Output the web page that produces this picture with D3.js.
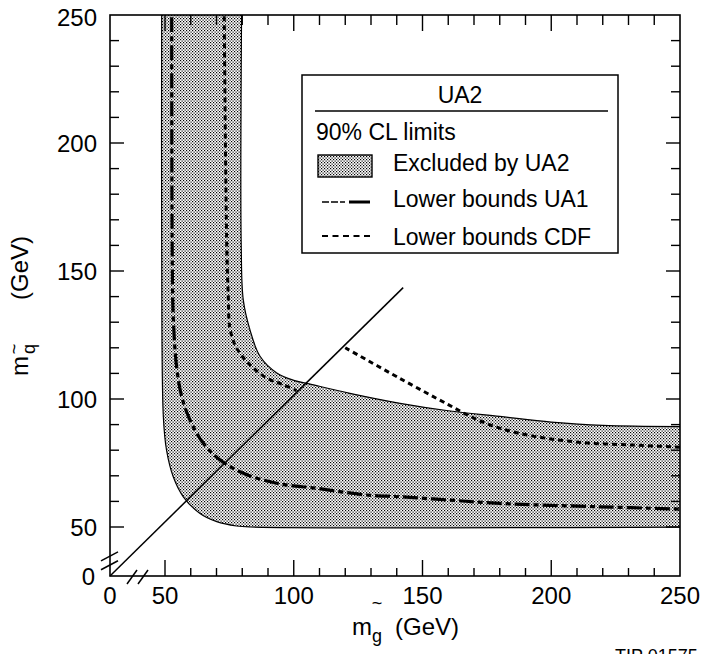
<!DOCTYPE html>
<html>
<head>
<meta charset="utf-8">
<script src="https://cdn.jsdelivr.net/npm/d3@7"></script>
<style>
  html, body { margin: 0; padding: 0; background: #fff; }
  svg { display: block; font-family: "Liberation Sans", Arial, Helvetica, sans-serif; }
</style>
</head>
<body>
<svg id="chart" width="702" height="654"></svg>
<script>
// Tick labels (GeV) on both mass axes
const xTickLabels = [0, 50, 100, 150, 200, 250];
const yTickLabels = [0, 50, 100, 150, 200, 250];

// UA2 excluded band, lower-left edge (gluino mass, squark mass)
const ua2OuterGluino = [47, 47, 48.5, 50.6, 53.2, 57.1, 63.6, 70.1, 77.8, 83, 260];
const ua2OuterSquark = [260, 158, 93, 80, 69.6, 61.8, 55.3, 52.1, 50.4, 50, 50];
// UA2 excluded band, upper-right edge
const ua2InnerGluino = [79.8, 79.6, 80.4, 83, 86.9, 93.4, 100, 106, 121.8, 141.3, 160, 180, 200, 220, 260];
const ua2InnerSquark = [260, 160, 138.7, 127, 116.7, 110.2, 107.3, 105.9, 102.2, 98.3, 95.4, 93.2, 91, 89.7, 89.2];

// UA1 lower bound
const ua1Gluino = [52.6, 52.8, 53.2, 54.5, 56.5, 59.7, 64.9, 71.4, 80.4, 93.4, 108.9, 128.3, 141.3, 160.7, 180.1, 218.9, 250];
const ua1Squark = [260, 158, 132.1, 112.6, 100.9, 91.8, 82.7, 76.2, 71, 67.1, 65.1, 62.5, 61.8, 60.5, 59.2, 57.9, 57];

// CDF lower bound: branch above the diagonal, and branch below it
const cdfUpperGluino = [72.9, 74, 74.6, 75.2, 77.8, 83, 89.5, 95.9, 101.1];
const cdfUpperSquark = [260, 159, 139.5, 127.7, 119.9, 113.4, 108.2, 105.6, 103.3];
const cdfLowerGluino = [120, 141.3, 160, 170, 180, 193, 212, 232, 250];
const cdfLowerSquark = [120, 108, 97.8, 92.5, 88.6, 85.5, 83, 82, 81.2];

// Diagonal m(squark) ~ m(gluino)
const diagGluino = [0, 142.5];
const diagSquark = [0, 143.5];

// Legend entries
const legendTitle = "UA2";
const legendSubtitle = "90% CL limits";
const legendLabels = ["Excluded by UA2", "Lower bounds UA1", "Lower bounds CDF"];

const svg = d3.select("#chart");

// Broken axes: 0–50 GeV compressed, 50–250 GeV linear
const x = d3.scaleLinear().domain([0, 50, 250]).range([110, 165, 680]);
const y = d3.scaleLinear().domain([0, 50, 250]).range([576, 527, 15]);

const defs = svg.append("defs");
const pat = defs.append("pattern")
  .attr("id", "stipple").attr("patternUnits", "userSpaceOnUse")
  .attr("width", 3).attr("height", 3);
pat.append("rect").attr("width", 3).attr("height", 3).attr("fill", "#fff");
pat.append("rect").attr("x", 0).attr("y", 0).attr("width", 1.2).attr("height", 1.2).attr("fill", "#000");
pat.append("rect").attr("x", 1.5).attr("y", 1.5).attr("width", 1.2).attr("height", 1.2).attr("fill", "#000");

defs.append("clipPath").attr("id", "plotClip")
  .append("rect")
  .attr("x", x(0)).attr("y", y(250))
  .attr("width", x(250) - x(0)).attr("height", y(0) - y(250));

const line = d3.line()
  .x(d => x(d[0])).y(d => y(d[1]))
  .curve(d3.curveCatmullRom.alpha(0.5));

const plot = svg.append("g").attr("clip-path", "url(#plotClip)");

// Excluded band
const outer = d3.zip(ua2OuterGluino, ua2OuterSquark);
const innerRev = d3.zip(ua2InnerGluino, ua2InnerSquark).reverse();
const bandPath = line(outer) + "L" + line(innerRev).slice(1) + "Z";
plot.append("path").attr("d", bandPath)
  .attr("fill", "url(#stipple)").attr("stroke", "#000").attr("stroke-width", 1.2);

// UA1 bound
plot.append("path").attr("d", line(d3.zip(ua1Gluino, ua1Squark)))
  .attr("fill", "none").attr("stroke", "#000").attr("stroke-width", 3.2)
  .attr("stroke-dasharray", "15,4,5,4");

// CDF bound
[[cdfUpperGluino, cdfUpperSquark], [cdfLowerGluino, cdfLowerSquark]].forEach(([g, q]) => {
  plot.append("path").attr("d", line(d3.zip(g, q)))
    .attr("fill", "none").attr("stroke", "#000").attr("stroke-width", 3)
    .attr("stroke-dasharray", "5,4");
});

// Diagonal
svg.append("path")
  .attr("d", d3.line().x(d => x(d[0])).y(d => y(d[1]))(d3.zip(diagGluino, diagSquark)))
  .attr("fill", "none").attr("stroke", "#000").attr("stroke-width", 1.5);

// Frame
const frame = svg.append("g").attr("stroke", "#000").attr("fill", "none");
frame.append("rect")
  .attr("x", x(0)).attr("y", y(250))
  .attr("width", x(250) - x(0)).attr("height", y(0) - y(250))
  .attr("stroke-width", 1.6);

// Inward ticks every 10 GeV from 50 to 250, longer at multiples of 50
const tickVals = d3.range(50, 251, 10);
const ticks = svg.append("g").attr("stroke", "#000").attr("stroke-width", 1.4);
tickVals.forEach(v => {
  const major = v % 50 === 0;
  if (v < 250) {
    ticks.append("line").attr("x1", x(v)).attr("x2", x(v)).attr("y1", y(0)).attr("y2", y(0) - (major ? 16 : 8));
    ticks.append("line").attr("x1", x(v)).attr("x2", x(v)).attr("y1", y(250)).attr("y2", y(250) + (major ? 16 : 10));
    ticks.append("line").attr("y1", y(v)).attr("y2", y(v)).attr("x1", x(0)).attr("x2", x(0) + (major ? 14 : 9));
    ticks.append("line").attr("y1", y(v)).attr("y2", y(v)).attr("x1", x(250)).attr("x2", x(250) - (major ? 14 : 9));
  }
});

// Axis break marks
const brk = svg.append("g").attr("stroke", "#000").attr("stroke-width", 1.5);
[11, 20].forEach(v => {
  brk.append("line").attr("x1", x(0) - 9).attr("y1", y(v) + 4.5).attr("x2", x(0) + 8).attr("y2", y(v) - 4.5);
});
[20, 30].forEach(v => {
  brk.append("line").attr("x1", x(v) - 5).attr("y1", y(0) + 8).attr("x2", x(v) + 5).attr("y2", y(0) - 6);
});

// Tick labels
const labels = svg.append("g").attr("font-size", 24).attr("fill", "#000");
xTickLabels.forEach(v => {
  labels.append("text").attr("x", x(v)).attr("y", 604)
    .attr("text-anchor", "middle").text(v);
});
yTickLabels.forEach(v => {
  labels.append("text").attr("x", v === 0 ? 95 : 97).attr("y", y(v) + (v === 250 ? 11 : 8.6))
    .attr("text-anchor", "end").text(v);
});

// Axis titles
const xt = svg.append("g").attr("fill", "#000");
xt.append("text").attr("x", 352).attr("y", 635).attr("font-size", 24).text("m");
xt.append("text").attr("x", 372).attr("y", 642).attr("font-size", 18).text("g");
xt.append("text").attr("x", 377).attr("y", 609).attr("font-size", 18).attr("text-anchor", "middle").text("~");
xt.append("text").attr("x", 395).attr("y", 635).attr("font-size", 24).text("(GeV)");

const yt = svg.append("g").attr("fill", "#000").attr("transform", "translate(28,376) rotate(-90)");
yt.append("text").attr("x", 0).attr("y", 0).attr("font-size", 24).text("m");
yt.append("text").attr("x", 22).attr("y", 7).attr("font-size", 18).text("q");
yt.append("text").attr("x", 27).attr("y", -8).attr("font-size", 18).attr("text-anchor", "middle").text("~");
yt.append("text").attr("x", 76).attr("y", 0).attr("font-size", 24).text("(GeV)");

// Legend
const lg = svg.append("g");
lg.append("rect").attr("x", 302).attr("y", 75).attr("width", 316).attr("height", 178)
  .attr("fill", "#fff").attr("stroke", "#000").attr("stroke-width", 1.5);
lg.append("text").attr("x", 460).attr("y", 103).attr("text-anchor", "middle")
  .attr("font-size", 23).text(legendTitle);
lg.append("line").attr("x1", 315).attr("x2", 608).attr("y1", 111).attr("y2", 111)
  .attr("stroke", "#000").attr("stroke-width", 1.6);
lg.append("text").attr("x", 316).attr("y", 140).attr("font-size", 23).text(legendSubtitle);
lg.append("rect").attr("x", 318).attr("y", 155).attr("width", 54).attr("height", 22)
  .attr("fill", "url(#stipple)").attr("stroke", "#000").attr("stroke-width", 1.4);
lg.append("line").attr("x1", 322).attr("x2", 345).attr("y1", 202).attr("y2", 202)
  .attr("stroke", "#000").attr("stroke-width", 1.6).attr("stroke-dasharray", "7,2");
lg.append("line").attr("x1", 349).attr("x2", 370).attr("y1", 202).attr("y2", 202)
  .attr("stroke", "#000").attr("stroke-width", 3);
lg.append("line").attr("x1", 322).attr("x2", 370).attr("y1", 236).attr("y2", 236)
  .attr("stroke", "#000").attr("stroke-width", 2).attr("stroke-dasharray", "6,4.5");
[171, 207, 245].forEach((ty, i) => {
  lg.append("text").attr("x", 393).attr("y", ty).attr("font-size", 23).text(legendLabels[i]);
});

// Figure reference number
svg.append("text").attr("x", 615).attr("y", 662).attr("font-size", 18).text("TIP 01575");
</script>
</body>
</html>
